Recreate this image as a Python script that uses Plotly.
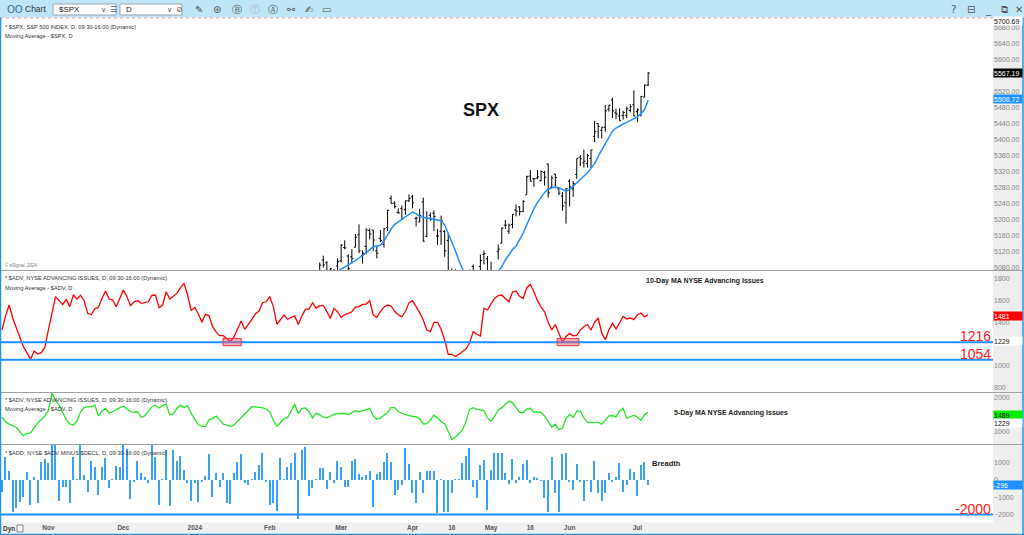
import plotly.graph_objects as go

# trading-day index: 0 = 13 Oct 2023 ... 181 = 5 Jul 2024
tick_idx = [13, 34, 54, 75, 95, 115, 126, 137, 148, 159, 178]
tick_txt = ["Nov", "Dec", "2024", "Feb", "Mar", "Apr", "16", "May", "16", "Jun", "Jul"]

# 10-day MA of NYSE advancing issues
adv_ma10 = [1330, 1460, 1560, 1440, 1350, 1260, 1175, 1120, 1058, 1135,
            1107, 1120, 1170, 1330, 1500, 1637, 1600, 1565, 1610, 1545,
            1655, 1615, 1650, 1600, 1483, 1470, 1525, 1540, 1620, 1690,
            1615, 1605, 1545, 1620, 1698, 1637, 1554, 1590, 1600, 1575,
            1584, 1590, 1650, 1650, 1535, 1560, 1683, 1615, 1640, 1667,
            1720, 1760, 1650, 1510, 1538, 1480, 1400, 1474, 1460, 1360,
            1310, 1277, 1277, 1250, 1221, 1268, 1340, 1412, 1336, 1380,
            1428, 1480, 1505, 1581, 1590, 1637, 1545, 1382, 1420, 1468,
            1428, 1440, 1459, 1380, 1460, 1520, 1523, 1581, 1529, 1554,
            1554, 1500, 1437, 1529, 1498, 1446, 1470, 1483, 1498, 1540,
            1545, 1566, 1569, 1600, 1468, 1446, 1500, 1540, 1560, 1551,
            1500, 1470, 1450, 1500, 1580, 1600, 1550, 1490, 1421, 1329,
            1314, 1400, 1400, 1336, 1237, 1105, 1105, 1085, 1105, 1126,
            1155, 1209, 1314, 1290, 1274, 1530, 1514, 1570, 1621, 1646,
            1652, 1620, 1590, 1680, 1690, 1640, 1620, 1720, 1750, 1683,
            1600, 1540, 1498, 1400, 1330, 1380, 1300, 1218, 1270, 1298,
            1275, 1280, 1330, 1360, 1380, 1329, 1400, 1440, 1300, 1240,
            1330, 1391, 1339, 1400, 1455, 1431, 1440, 1425, 1470, 1485,
            1450, 1470]

# 5-day MA of NYSE advancing issues
adv_ma5 = [1420, 1290, 1220, 1170, 1130, 1000, 884, 950, 960, 1120,
           1260, 1345, 1450, 1611, 2120, 1900, 1780, 1550, 1350, 1230,
           1190, 1310, 1580, 1700, 1727, 1727, 1771, 1457, 1600, 1680,
           1540, 1580, 1651, 1700, 1740, 1650, 1580, 1570, 1580, 1420,
           1457, 1600, 1727, 1771, 1690, 1760, 1800, 1490, 1515, 1680,
           1771, 1700, 1760, 1530, 1380, 1200, 1160, 1150, 1350, 1380,
           1455, 1350, 1220, 1190, 1150, 1200, 1300, 1420, 1510, 1620,
           1727, 1720, 1710, 1690, 1660, 1570, 1340, 1160, 1260, 1380,
           1410, 1600, 1800, 1530, 1680, 1690, 1590, 1400, 1540, 1490,
           1420, 1400, 1457, 1500, 1525, 1534, 1534, 1500, 1560, 1610,
           1575, 1600, 1640, 1680, 1450, 1360, 1400, 1480, 1560, 1700,
           1700, 1580, 1530, 1500, 1470, 1455, 1430, 1380, 1220, 1235,
           1340, 1480, 1400, 1290, 1230, 1005, 770, 840, 940, 1050,
           1300, 1650, 1700, 1651, 1633, 1611, 1400, 1300, 1450, 1630,
           1700, 1800, 1890, 1840, 1700, 1560, 1550, 1660, 1680, 1572,
           1572, 1560, 1450, 1300, 1130, 1215, 1060, 1100, 1380, 1500,
           1420, 1600, 1600, 1400, 1273, 1273, 1273, 1270, 1215, 1330,
           1460, 1470, 1430, 1600, 1680, 1390, 1440, 1480, 1420, 1330,
           1500, 1560]

# $ADD  advancing minus declining
add_breadth = [-675, 1350, 540, -1830, -1640, -1250, -1000, 482, -1445, 155,
               -1350, 1060, 1195, 1000, 2300, 2300, -1215, -385, -385, -1310,
               1350, 40, 2300, 290, -675, 1118, 730, -865, 730, 1250,
               -445, 40, 810, 770, 2300, 1770, -1120, -100, 1118, 385,
               155, -190, 2300, 1350, -1445, 40, 1735, -1500, 1735, 1118,
               1390, 580, -190, -1195, -150, -1250, -100, 230, 1500, -965,
               385, -385, 385, -1310, -1390, 385, 1060, 1500, -150, -290,
               20, 480, 865, 1580, -100, -1445, -1350, -1770, 1250, 40,
               730, 1000, 1540, -2270, 1735, 1890, -925, -480, 40, 675,
               675, -540, 480, -190, 1118, 770, -385, -385, 1118, 1195,
               345, 190, 290, 540, -1540, 345, 480, 1060, 1540, 1060,
               -865, -580, -290, 1830, 925, -770, -1350, 480, -770, 540,
               540, 540, -1890, 40, -1830, -1830, -770, 40, 40, 1000,
               1390, 1830, -385, -1060, 865, 1155, -1735, 580, 1540,
               1540, 1580, 385, -250, 1195, -150, 155, 925, 1155, -190,
               190, 100, -40, -1060, -1830, 1350, -770, -1830, 1500, 1580,
               -100, -580, 925, -100, -1215, -40, -675, 1118, -770, -1215,
               -730, 425, -100, 155, 1000, -675, -290, 620, 480, -925,
               865, 1060, -296]

# SPX daily bars, from 20 Feb 2024 (index 87) on
SPX_FIRST = 87
spx_open = [4989, 4963, 5038, 5100, 5093, 5074, 5068, 5085, 5098, 5131,
            5110, 5108, 5132, 5163, 5111, 5134, 5174, 5175, 5123, 5154,
            5139, 5181, 5254, 5242, 5219, 5229, 5226, 5248, 5258, 5204,
            5195, 5245, 5159, 5212, 5217, 5160, 5172, 5171, 5149, 5064,
            5068, 5032, 5005, 4988, 5028, 5084, 5019, 5084, 5114, 5103,
            5029, 5050, 5122, 5142, 5187, 5172, 5189, 5225, 5233, 5221,
            5263, 5310, 5303, 5305, 5298, 5319, 5340, 5282, 5315, 5278,
            5260, 5244, 5297, 5278, 5314, 5357, 5343, 5341, 5354, 5409,
            5441, 5424, 5432, 5477, 5500, 5468, 5460, 5461, 5461, 5474,
            5488, 5471, 5462, 5507, 5537]
spx_high = [4993, 4983, 5094, 5111, 5097, 5080, 5077, 5104, 5140, 5149,
            5114, 5127, 5165, 5189, 5124, 5179, 5179, 5176, 5136, 5175,
            5180, 5226, 5261, 5247, 5229, 5236, 5248, 5264, 5263, 5208,
            5228, 5256, 5222, 5219, 5224, 5178, 5211, 5175, 5168, 5079,
            5077, 5046, 5019, 5038, 5076, 5089, 5057, 5114, 5124, 5110,
            5096, 5073, 5139, 5181, 5200, 5191, 5214, 5239, 5234, 5250,
            5311, 5325, 5305, 5325, 5324, 5323, 5341, 5311, 5315, 5282,
            5270, 5280, 5302, 5298, 5354, 5362, 5376, 5366, 5376, 5448,
            5442, 5432, 5488, 5488, 5506, 5478, 5479, 5473, 5483, 5490,
            5524, 5479, 5510, 5539, 5570]
spx_low = [4955, 4946, 5038, 5081, 5068, 5057, 5058, 5061, 5094, 5127,
           5056, 5091, 5132, 5117, 5091, 5114, 5151, 5123, 5104, 5145,
           5131, 5172, 5241, 5229, 5216, 5203, 5213, 5245, 5229, 5184,
           5195, 5146, 5157, 5198, 5172, 5138, 5138, 5108, 5052, 5039,
           5007, 5001, 4953, 4970, 5027, 5047, 5001, 5073, 5089, 5035,
           5013, 5011, 5101, 5142, 5178, 5165, 5179, 5209, 5211, 5220,
           5263, 5296, 5283, 5302, 5297, 5286, 5256, 5279, 5279, 5262,
           5223, 5191, 5234, 5258, 5303, 5335, 5331, 5331, 5330, 5395,
           5404, 5404, 5421, 5471, 5455, 5452, 5448, 5451, 5455, 5469,
           5460, 5445, 5459, 5507, 5535]
spx_close = [4975, 4981, 5087, 5088, 5069, 5078, 5069, 5096, 5137, 5130,
             5078, 5104, 5157, 5123, 5117, 5175, 5165, 5150, 5117, 5149,
             5178, 5224, 5241, 5234, 5218, 5203, 5248, 5254, 5243, 5205,
             5211, 5147, 5204, 5202, 5209, 5160, 5199, 5123, 5061, 5051,
             5022, 5011, 4967, 5010, 5070, 5071, 5048, 5099, 5116, 5035,
             5018, 5064, 5127, 5180, 5187, 5187, 5214, 5222, 5221, 5246,
             5308, 5297, 5303, 5308, 5321, 5307, 5268, 5305, 5306, 5267,
             5235, 5278, 5283, 5291, 5354, 5353, 5347, 5361, 5375, 5421,
             5434, 5432, 5473, 5487, 5473, 5465, 5448, 5469, 5478, 5483,
             5460, 5475, 5509, 5537, 5567.19]
spx_ma = [5010, 5020, 5030, 5040, 5050, 5058, 5066, 5072, 5077, 5082,
          5088, 5093, 5100, 5105, 5111, 5118, 5126, 5133, 5135, 5137,
          5148, 5164, 5177, 5189, 5195, 5200, 5207, 5214, 5220, 5216,
          5209, 5206, 5205, 5204, 5202, 5200, 5198, 5188, 5167, 5145,
          5123, 5098, 5075, 5058, 5048, 5040, 5036, 5035, 5038, 5044,
          5052, 5062, 5072, 5083, 5100, 5113, 5126, 5135, 5150, 5167,
          5188, 5210, 5228, 5244, 5258, 5269, 5277, 5280, 5283, 5281,
          5276, 5272, 5276, 5284, 5292, 5302, 5310, 5318, 5329, 5341,
          5359, 5375, 5393, 5408, 5422, 5430, 5436, 5440, 5444, 5449,
          5453, 5458, 5466, 5476, 5500]

# axis labels (the ones hidden behind price tags are left out)
spx_ticks = [5080, 5120, 5160, 5200, 5240, 5280, 5320, 5360, 5400, 5440,
             5480, 5520, 5600, 5640, 5680]
adv10_ticks = [800, 1000, 1400, 1600, 1800]
adv5_ticks = [1000, 2000]
add_ticks = [-2000, -1000, 0, 1000]

FONT = "Liberation Sans, Arial, sans-serif"
SYM = "DejaVu Sans, sans-serif"
BLUE = "#1e90ff"

W, H = 1024, 535
ML, MR, MT, MB = 1, 31, 18, 13
PW = W - ML - MR
PH = H - MT - MB


def px(X):
    return (X - ML) / PW


def py(Y):
    return (H - MB - Y) / PH


days = list(range(len(adv_ma10)))
spx_x = list(range(SPX_FIRST, SPX_FIRST + len(spx_close)))

fig = go.Figure()
fig.add_trace(go.Ohlc(x=spx_x, open=spx_open, high=spx_high, low=spx_low, close=spx_close,
                      increasing_line_color="black", decreasing_line_color="black",
                      line_width=1, tickwidth=0.45, xaxis="x", yaxis="y", hoverinfo="skip"))
fig.add_trace(go.Scatter(x=spx_x, y=spx_ma, mode="lines", line=dict(color=BLUE, width=1.5),
                         xaxis="x", yaxis="y", hoverinfo="skip"))
fig.add_trace(go.Scatter(x=days, y=adv_ma10, mode="lines", line=dict(color="#ff0000", width=1.3),
                         xaxis="x", yaxis="y2", hoverinfo="skip"))
fig.add_trace(go.Scatter(x=days, y=adv_ma5, mode="lines", line=dict(color="#22e622", width=1.3),
                         xaxis="x", yaxis="y3", hoverinfo="skip"))
fig.add_trace(go.Bar(x=days, y=add_breadth, width=0.38, marker=dict(color="#3aa2f2", line_width=0),
                     xaxis="x", yaxis="y4", hoverinfo="skip"))

tickfont = dict(family=FONT, size=7, color="#858585")
yax = dict(side="right", anchor="x", showgrid=False, zeroline=False, showline=False,
           ticks="", tickfont=tickfont, fixedrange=True)

shapes = []


def pline(x0, y0, x1, y1, color, width=1, dash="solid"):
    shapes.append(dict(type="line", xref="paper", yref="paper", x0=px(x0), y0=py(y0),
                       x1=px(x1), y1=py(y1), line=dict(color=color, width=width, dash=dash)))


def prect(x0, y0, x1, y1, fill, line="rgba(0,0,0,0)", layer="below"):
    shapes.append(dict(type="rect", xref="paper", yref="paper", x0=px(x0), y0=py(y0),
                       x1=px(x1), y1=py(y1), fillcolor=fill, line=dict(color=line, width=1),
                       layer=layer))


# toolbar, axis column, date strip
prect(0, 0, 1024, 17.5, "#bfe5f8")
prect(993, 17.5, 1023, 535, "#eeeeee")
prect(0, 522.5, 1023, 535, "#f0f0f0")
prect(53, 4, 116, 15, "white", "#9aa6ae", "above")
prect(120, 4, 182, 15, "white", "#9aa6ae", "above")
pline(0, 18, 993, 18, "#f39a9a", 1, "dot")
for yy in (270.5, 392.5, 444.5):
    pline(0, yy, 1023, yy, "#a0a0a0", 1.2)
pline(0.5, 17.5, 0.5, 535, "#1e96e6", 1.5)
pline(1023, 17.5, 1023, 535, "#1e96e6", 1.5)
pline(0, 534.5, 1024, 534.5, "#1e96e6", 1.5)
prect(17, 525, 23, 532, "rgba(0,0,0,0)", "#888888", "above")

# support lines and highlight boxes
for lvl, ax in ((1216, "y2"), (1054, "y2"), (-2000, "y4")):
    shapes.append(dict(type="line", xref="paper", yref=ax, x0=0, x1=1, y0=lvl, y1=lvl,
                       line=dict(color=BLUE, width=2)))
for x0, x1 in ((61.9, 67.0), (155.5, 161.6)):
    shapes.append(dict(type="rect", xref="x", yref="y2", x0=x0, x1=x1, y0=1184, y1=1252,
                       fillcolor="rgba(240,90,110,0.5)", line=dict(color="#e83040", width=1)))

ann = []


def text(t, X, Y, size=5.7, color="#333333", anchor="left", bold=False, family=FONT):
    if bold:
        t = "<b>" + t + "</b>"
    ann.append(dict(text=t, xref="paper", yref="paper", x=px(X), y=py(Y), xanchor=anchor,
                    yanchor="middle", showarrow=False, font=dict(family=family, size=size, color=color)))


def tag(t, Y, bg, fg):
    ann.append(dict(text=t, xref="paper", yref="paper", x=px(993), y=py(Y), xanchor="left",
                    yanchor="middle", showarrow=False, width=28, height=8, align="left",
                    bgcolor=bg, borderpad=0, font=dict(family=FONT, size=7, color=fg)))


# toolbar texts
text("OO", 5, 9, 10, "#3d6f93", family=SYM)
text("Chart", 23, 9, 8.5, "#333333")
text("$SPX", 57, 9.5, 8, "#222222")
text("∨", 99, 9.5, 7, "#555555", family=SYM)
text("☰", 108, 9.5, 8, "#555555", family=SYM)
text("D", 124, 9.5, 8, "#222222")
text("∨", 165, 9.5, 7, "#555555", family=SYM)
text("⊘", 174, 9.5, 8, "#555555", family=SYM)
for X, glyph, col in ((193, "✎", "#555555"), (211, "⊛", "#555555"), (230, "Ⓑ", "#555555"),
                      (248, "Ⓣ", "#b0b0b0"), (266, "Ⓐ", "#555555"), (285, "⚯", "#555555"),
                      (303, "✍", "#555555"), (320, "▭", "#555555"),
                      (949, "?", "#555555"), (965, "⊟", "#555555"), (983, "_", "#555555"),
                      (999, "⧉", "#555555"), (1013, "✕", "#555555")):
    text(glyph, X, 9.5, 10, col, family=SYM)

# panel headers
text("* $SPX, S&P 500 INDEX, D, 09:30-16:00 (Dynamic)", 3, 27)
text("Moving Average - $SPX, D", 3, 36)
text("© eSignal, 2024", 3, 265, 4.5, "#777777")
text("* $ADV, NYSE ADVANCING ISSUES, D, 09:30-16:00 (Dynamic)", 3, 278)
text("Moving Average - $ADV, D", 3, 288)
text("* $ADV, NYSE ADVANCING ISSUES, D, 09:30-16:00 (Dynamic)", 3, 400)
text("Moving Average - $ADV, D", 3, 409)
text("* $ADD, NYSE $ADV MINUS $DECL, D, 09:30-16:00 (Dynamic)", 3, 453)

# chart labels
text("SPX", 481, 110, 18, "#111111", "center", True)
text("10-Day MA NYSE Advancing Issues", 705, 281, 7, "#222222", "center", True)
text("5-Day MA NYSE Advancing Issues", 731, 413, 7, "#222222", "center", True)
text("Breadth", 650, 463, 7.5, "#222222", "left", True)
text("1216", 993, 336, 14, "#ff2020", "right")
text("1054", 993, 354, 14, "#ff2020", "right")
text("-2000", 993, 509, 14, "#ff2020", "right")
text("Dyn", 1, 528.5, 6.5, "#333333", "left", True)

# price tags on the axis
tag("5700.69", 21.5, "white", "#111111")
tag("5567.19", 73, "black", "white")
tag("5508.72", 99, BLUE, "white")
tag("1481", 315.5, "#ff0000", "white")
tag("1229", 341, "white", "#111111")
tag("1489", 415, "#00ee00", "#111111")
tag("1229", 423, "white", "#111111")
tag("-296", 485, BLUE, "white")

fig.update_layout(
    width=W, height=H, margin=dict(l=ML, r=MR, t=MT, b=MB),
    paper_bgcolor="white", plot_bgcolor="white", showlegend=False, bargap=0,
    xaxis=dict(domain=[0, 1], anchor="y4", range=[-0.28, 277.6], tickvals=tick_idx,
               ticktext=["<b>" + t + "</b>" for t in tick_txt], ticks="", showgrid=False,
               zeroline=False, showline=False, rangeslider=dict(visible=False), fixedrange=True,
               tickfont=dict(family=FONT, size=6.5, color="#555555")),
    yaxis=dict(yax, domain=[py(270), py(18)], range=[5075, 5705], tickvals=spx_ticks, tickformat=".2f"),
    yaxis2=dict(yax, domain=[py(392), py(271)], range=[757, 1874], tickvals=adv10_ticks),
    yaxis3=dict(yax, domain=[py(444), py(393)], range=[642, 2125], tickvals=adv5_ticks),
    yaxis4=dict(yax, domain=[py(522), py(445)], range=[-2428, 2023], tickvals=add_ticks),
    shapes=shapes, annotations=ann,
)

fig.write_html("out.html", config={"displayModeBar": False},
               post_script="document.body.style.margin='0';")
